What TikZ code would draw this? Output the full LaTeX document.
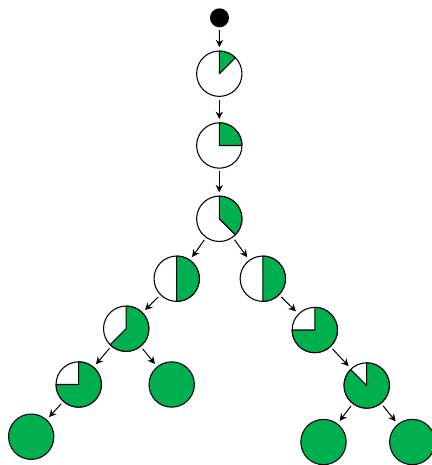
\documentclass[tikz,border=0pt]{standalone}
\usetikzlibrary{arrows.meta}
\definecolor{ogreen}{RGB}{0,176,80}
\begin{document}
\begin{tikzpicture}[x=0.75pt,y=-0.75pt,
  state/.style={circle, draw, line width=0.8pt, minimum size=34pt, inner sep=0pt, fill=white},
  full/.style={state, fill=ogreen},
  startdot/.style={circle, fill=black, minimum size=14.25pt, inner sep=0pt},
  arr/.style={-{Stealth[length=5.5pt,width=5.5pt]}, line width=0.75pt, shorten <=2pt, shorten >=2.5pt},
  sector/.style={fill=ogreen, draw=black, line width=0.8pt, line join=round}]
\useasboundingbox (0,0) rectangle (432,465);
\newcommand\slicefill[2]{\path[sector] (#1.center) -- ++(90:17pt) arc[start angle=90, end angle={90-#2}, radius=17pt] -- cycle;}
\node[startdot] (s) at (219.5,17.8) {};
\node[state] (c1) at (219.3,73.7) {};
\node[state] (c2) at (219.3,145.5) {};
\node[state] (c3) at (219.3,218.8) {};
\node[state] (c4) at (176.7,278.7) {};
\node[state] (c5) at (262.8,278.7) {};
\node[state] (c6) at (126.2,328.7) {};
\node[state] (c7) at (78.7,384.5) {};
\node[full]  (c8) at (171.7,384.5) {};
\node[full]  (c9) at (31.2,436.7) {};
\node[state] (c10) at (314.8,330) {};
\node[state] (c11) at (366.7,385.5) {};
\node[full]  (c12) at (323.5,442) {};
\node[full]  (c13) at (412.3,442) {};
\slicefill{c1}{45}
\slicefill{c2}{90}
\slicefill{c3}{135}
\slicefill{c4}{180}
\slicefill{c5}{180}
\slicefill{c6}{225}
\slicefill{c7}{270}
\slicefill{c10}{270}
\slicefill{c11}{315}
\draw[arr] (s) -- (c1);
\draw[arr] (c1) -- (c2);
\draw[arr] (c2) -- (c3);
\draw[arr] (c3) -- (c4);
\draw[arr] (c3) -- (c5);
\draw[arr] (c4) -- (c6);
\draw[arr] (c6) -- (c7);
\draw[arr] (c6) -- (c8);
\draw[arr] (c7) -- (c9);
\draw[arr] (c5) -- (c10);
\draw[arr] (c10) -- (c11);
\draw[arr] (c11) -- (c12);
\draw[arr] (c11) -- (c13);
\end{tikzpicture}
\end{document}
